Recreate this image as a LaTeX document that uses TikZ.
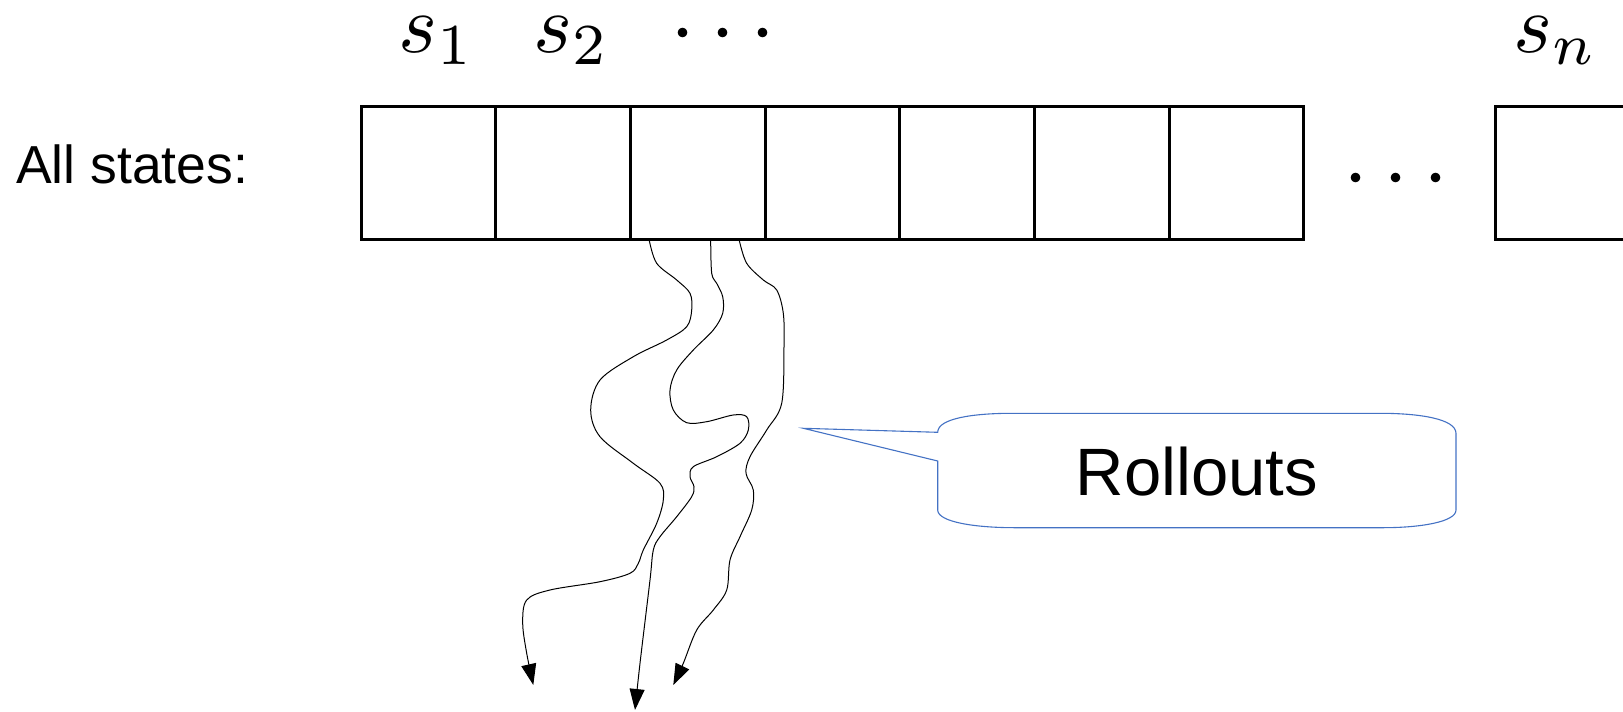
\documentclass[tikz,border=0pt]{standalone}
\usepackage{fix-cm}
\usepackage{fontspec}
\setmainfont{Liberation Sans}
\usetikzlibrary{arrows.meta}
\definecolor{calloutblue}{RGB}{68,114,196}
% math set at 10pt and enlarged, so the glyphs keep the 10pt design
\newcommand{\bigmath}[2]{\scalebox{#1}{\fontsize{10}{12}\selectfont$#2$}}
\begin{document}
\begin{tikzpicture}[x=1pt,y=-1pt,
  statebox/.style={draw, line width=3pt, minimum width=134.7pt,
    minimum height=133pt, inner sep=0pt},
  mathlabel/.style={inner sep=0pt, anchor=base west},
  rollout/.style={line width=1pt, -{Triangle[length=21pt,width=15pt]}},
  callout/.style={draw=calloutblue, line width=1.1pt, line join=miter}]
\useasboundingbox (0,0) rectangle (1623,712);
\clip (0,0) rectangle (1623,712);

% row of states
\foreach \i in {1,...,7}
  \node[statebox] (b\i) at ({428.35+(\i-1)*134.7},172.5) {};
\node[statebox] (bn) at (1562.35,172.5) {};
\node[inner sep=0pt, anchor=base] (gap) at (1396,200.5)
  {\bigmath{9}{\cdots}};

% labels
\node[inner sep=0pt, anchor=base west, font=\fontsize{53.5}{60}\selectfont]
  (all) at (16,183.3) {All states:};
\node[mathlabel] (s1) at (398,52.5) {\bigmath{8.3}{s_1}};
\node[mathlabel] (s2) at (533,52.5) {\bigmath{8.3}{s_2}};
\node[mathlabel] (sdots) at (670,55.5) {\bigmath{9}{\cdots}};
\node[mathlabel] (sn) at (1513,52.5) {\bigmath{8.3}{s_n}};

% rollouts leaving the third state
\coordinate (r1) at (649.3,240.5);
\coordinate (r2) at (710.7,240.5);
\coordinate (r3) at (739.3,240.5);
\coordinate (e1) at (533.3,685);
\coordinate (e2) at (635,710);
\coordinate (e3) at (673.3,685);

\draw[rollout] plot[smooth, tension=0.55] coordinates {(r1)
  (656.7,263.3) (676.7,280) (690,293.3) (691.7,310) (686.7,326.7)
  (666.7,340) (633.3,356.7) (600,380) (590.7,410) (600,436.7)
  (633.3,463.3) (660,483.3) (663.3,500) (656.7,523.3) (643.3,550)
  (638.3,563.3) (630,573.3) (600,581.7) (550,590) (526.7,600)
  (522.7,623.3) (526.7,653.3) (e1)};

\draw[rollout] plot[smooth, tension=0.55] coordinates {(r2)
  (711.7,273.3) (716.7,283.3) (722.7,296.7) (722.7,313.3) (713.3,330)
  (693.3,350) (676.7,370) (670,390) (673.3,410) (686.7,422.7)
  (706.7,421.7) (733.3,415) (746.7,416.7) (748.3,430) (740,443.3)
  (716.7,456.7) (693.3,466.7) (690,476.7) (694,486.7) (691.7,496.7)
  (676.7,516.7) (660,536.7) (653.3,550) (650,580) (640,663.3) (e2)};

\draw[rollout] plot[smooth, tension=0.55] coordinates {(r3)
  (746.7,263.3) (763.3,280) (776.7,290) (783.3,313.3) (784,346.7)
  (781.7,403.3) (766.7,430) (750,456.7) (746,473.3) (753.3,490)
  (751.7,510) (740,536.7) (730,560) (726.7,590) (713.3,610)
  (696.7,630) (683.3,663.3) (e3)};

% callout
\coordinate (ctip) at (803.3,428.3);
\draw[callout] (ctip) -- (937.7,432.3)
  .. controls (937.7,418) and (975,413.3) .. (1012,413.3)
  -- (1380,413.3)
  .. controls (1420,413.3) and (1456,419) .. (1456,433.3)
  -- (1456,510)
  .. controls (1456,522) and (1420,527.7) .. (1383,527.7)
  -- (1015,527.7)
  .. controls (975,527.7) and (937.7,522) .. (937.7,510)
  -- (937.7,461) -- cycle;
\node[inner sep=0pt, anchor=base, font=\fontsize{67}{75}\selectfont]
  (roll) at (1197,495) {Rollouts};
\end{tikzpicture}
\end{document}
